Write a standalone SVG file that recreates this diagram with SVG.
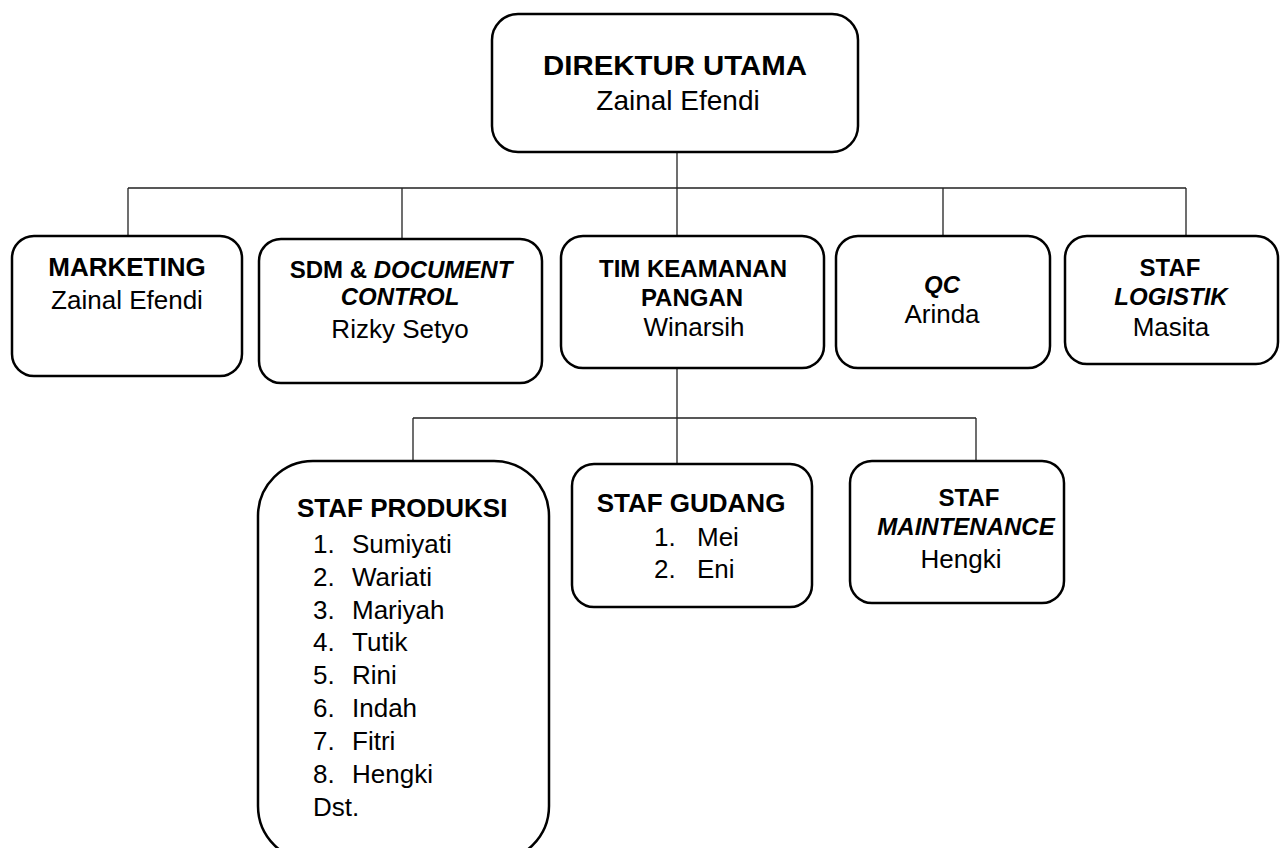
<svg xmlns="http://www.w3.org/2000/svg" width="1280" height="848" viewBox="0 0 1280 848">
<style>
.box{fill:#fff;stroke:#000;stroke-width:2.5}
.ln{fill:none;stroke:#222;stroke-width:1.3}
text{font-family:"Liberation Sans",Arial,sans-serif;fill:#000}
.b{font-weight:bold}
.i{font-style:italic}
.c{text-anchor:middle}
</style>
<rect width="1280" height="848" fill="#fff"/>
<g id="connectors">
<path class="ln" d="M677 152V188M128 188H1186M128 188V236M402 188V239M677 188V236M943 188V236M1186 188V236"/>
<path class="ln" d="M677 368V418M413 418H976M413 418V461M677 418V465M976 418V461"/>
</g>
<g id="direktur">
<rect class="box" x="492" y="14" width="366" height="138" rx="26"/>
<text class="c b" x="675" y="75" font-size="28" textLength="264" lengthAdjust="spacingAndGlyphs">DIREKTUR UTAMA</text>
<text class="c" x="678" y="110" font-size="28">Zainal Efendi</text>
</g>
<g id="marketing">
<rect class="box" x="12" y="236" width="230" height="140" rx="22"/>
<text class="c b" x="127" y="276" font-size="26">MARKETING</text>
<text class="c" x="127" y="309" font-size="26">Zainal Efendi</text>
</g>
<g id="sdm">
<rect class="box" x="259" y="239" width="283" height="144" rx="22"/>
<text class="c b" x="401" y="278" font-size="24">SDM &amp; <tspan class="i">DOCUMENT</tspan></text>
<text class="c b i" x="400" y="305" font-size="24">CONTROL</text>
<text class="c" x="400" y="338" font-size="26">Rizky Setyo</text>
</g>
<g id="tim">
<rect class="box" x="561" y="236" width="263" height="132" rx="22"/>
<text class="c b" x="693" y="277" font-size="24">TIM KEAMANAN</text>
<text class="c b" x="692" y="306" font-size="24">PANGAN</text>
<text class="c" x="694" y="336" font-size="26">Winarsih</text>
</g>
<g id="qc">
<rect class="box" x="836" y="236" width="214" height="132" rx="22"/>
<text class="c b i" x="942" y="293" font-size="24">QC</text>
<text class="c" x="942" y="323" font-size="26">Arinda</text>
</g>
<g id="logistik">
<rect class="box" x="1065" y="236" width="213" height="128" rx="22"/>
<text class="c b" x="1170" y="276" font-size="24">STAF</text>
<text class="c b i" x="1171" y="305" font-size="24">LOGISTIK</text>
<text class="c" x="1171" y="336" font-size="26">Masita</text>
</g>
<g id="produksi">
<rect class="box" x="258" y="461" width="291" height="400" rx="55"/>
<text class="b" x="297" y="517" font-size="26">STAF PRODUKSI</text>
<g font-size="26">
<text x="313" y="553">1.</text><text x="352" y="553">Sumiyati</text>
<text x="313" y="586">2.</text><text x="352" y="586">Wariati</text>
<text x="313" y="619">3.</text><text x="352" y="619">Mariyah</text>
<text x="313" y="651">4.</text><text x="352" y="651">Tutik</text>
<text x="313" y="684">5.</text><text x="352" y="684">Rini</text>
<text x="313" y="717">6.</text><text x="352" y="717">Indah</text>
<text x="313" y="750">7.</text><text x="352" y="750">Fitri</text>
<text x="313" y="783">8.</text><text x="352" y="783">Hengki</text>
<text x="313" y="816">Dst.</text>
</g>
</g>
<g id="gudang">
<rect class="box" x="572" y="464" width="240" height="143" rx="22"/>
<text class="c b" x="691" y="512" font-size="26">STAF GUDANG</text>
<g font-size="26">
<text x="654" y="546">1.</text><text x="697" y="546">Mei</text>
<text x="654" y="578">2.</text><text x="697" y="578">Eni</text>
</g>
</g>
<g id="maintenance">
<rect class="box" x="850" y="461" width="214" height="142" rx="22"/>
<text class="c b" x="969" y="506" font-size="24">STAF</text>
<text class="c b i" x="966" y="535" font-size="24">MAINTENANCE</text>
<text class="c" x="961" y="568" font-size="26">Hengki</text>
</g>
</svg>
